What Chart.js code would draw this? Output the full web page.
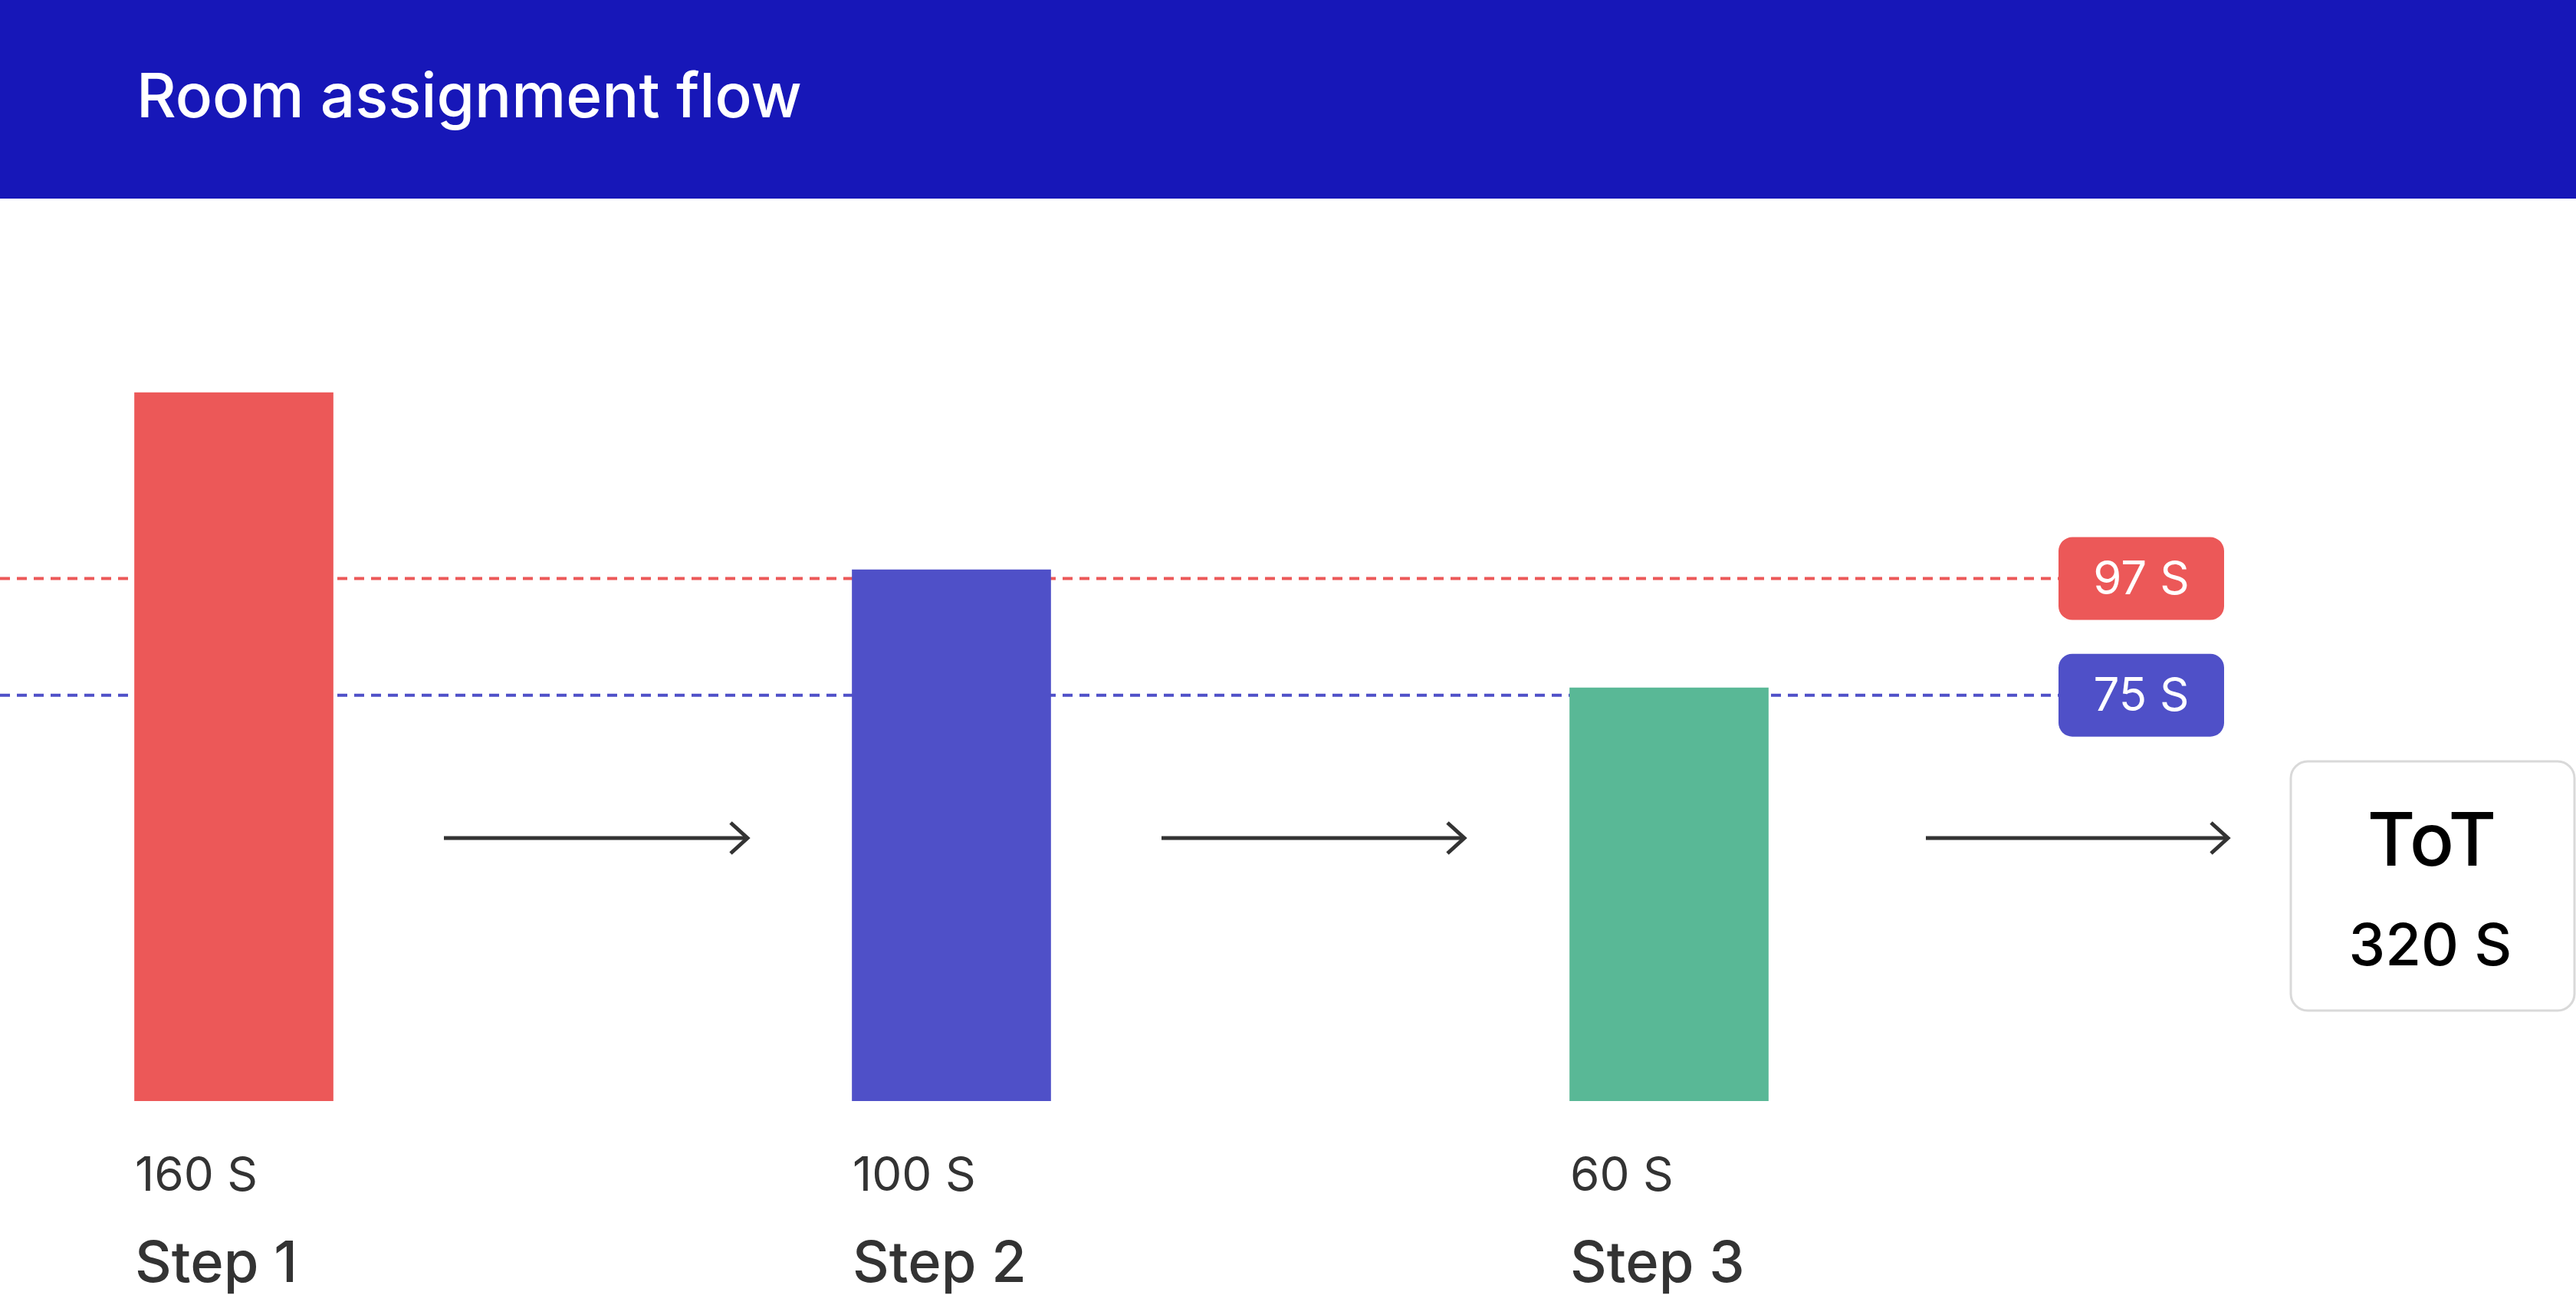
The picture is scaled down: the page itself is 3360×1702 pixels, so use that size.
<!DOCTYPE html>
<html><head><meta charset="utf-8">
<script src="https://cdn.jsdelivr.net/npm/chart.js@4"></script>
<style>html,body{margin:0;padding:0;background:#fff;overflow:hidden}</style>
</head><body>
<canvas id="c" width="3360" height="1702" style="width:3360px;height:1702px"></canvas>
<script>
const title = "Room assignment flow";
const categories = ["Step 1","Step 2","Step 3"];
const values = [160,100,60];
const valueLabels = ["160 S","100 S","60 S"];
const barColors = ["#EC5858","#4F50C8","#59B896"];
const refValues = [97,75];
const refLabels = ["97 S","75 S"];
const refColors = ["#EC5858","#4F50C8"];
const totalLabel = "ToT";
const totalValue = "320 S";
const yBase = -80;
const FONT = "Inter, 'Open Sans', sans-serif";

function rr(ctx,x,y,w,h,r){ctx.beginPath();ctx.moveTo(x+r,y);ctx.arcTo(x+w,y,x+w,y+h,r);ctx.arcTo(x+w,y+h,x,y+h,r);ctx.arcTo(x,y+h,x,y,r);ctx.arcTo(x,y,x+w,y,r);ctx.closePath();}
function arrow(ctx,x1,x2,y){ctx.save();ctx.strokeStyle="#333";ctx.lineWidth=5;ctx.beginPath();ctx.moveTo(x1,y);ctx.lineTo(x2,y);ctx.stroke();
ctx.beginPath();ctx.moveTo(x2-22,y-20);ctx.lineTo(x2,y);ctx.lineTo(x2-22,y+20);ctx.stroke();ctx.restore();}

const deco = {
 id:"deco",
 beforeDraw(chart){const ctx=chart.ctx;ctx.save();ctx.fillStyle="#fff";ctx.fillRect(0,0,3360,1702);
  ctx.fillStyle="#1717B8";ctx.fillRect(0,0,3360,259);
  ctx.fillStyle="#fff";ctx.font="500 80px "+FONT;ctx.textBaseline="middle";ctx.fillText(title,178,129);ctx.restore();
  const ys=chart.scales.yRef;
  refValues.forEach((v,i)=>{const y=ys.getPixelForValue(v);ctx.save();ctx.strokeStyle=refColors[i];ctx.lineWidth=4;ctx.setLineDash([13,9]);
   ctx.beginPath();ctx.moveTo(0,y);ctx.lineTo(2685,y);ctx.stroke();ctx.restore();});
 },
 afterDraw(chart){const ctx=chart.ctx,xs=chart.scales.x,ys=chart.scales.yRef;ctx.save();
  refValues.forEach((v,i)=>{const y=ys.getPixelForValue(v);ctx.fillStyle=refColors[i];rr(ctx,2685,y-54,216,108,18);ctx.fill();
   ctx.fillStyle="#fff";ctx.font="400 60px "+FONT;ctx.textAlign="center";ctx.textBaseline="middle";ctx.fillText(refLabels[i],2793,y+2);});
  ctx.textAlign="left";ctx.textBaseline="middle";
  categories.forEach((c,i)=>{const x=xs.getPixelForValue(i)-129;
   ctx.fillStyle="#333";ctx.font="400 62px "+FONT;ctx.fillText(valueLabels[i],x,1534);
   ctx.font="500 74px "+FONT;ctx.fillText(c,x,1650);});
  arrow(ctx,579,975,1093);arrow(ctx,1515,1910,1093);arrow(ctx,2512,2906,1093);
  ctx.strokeStyle="#d9d9d9";ctx.lineWidth=3;ctx.fillStyle="#fff";rr(ctx,2988,993,370,325,22);ctx.fill();ctx.stroke();
  ctx.fillStyle="#000";ctx.textAlign="center";ctx.font="500 96px "+FONT;ctx.fillText(totalLabel,3172,1100);
  ctx.font="500 76px "+FONT;ctx.fillText(totalValue,3170,1236);
  ctx.restore();}
};

new Chart(document.getElementById("c"),{
 type:"bar",
 data:{datasets:[{data:values.map((v,i)=>({x:i,y:[yBase,v]})),backgroundColor:barColors,barThickness:259,borderWidth:0}]},
 options:{responsive:false,animation:false,devicePixelRatio:1,
  layout:{padding:{top:0,bottom:266,left:0,right:0}},
  plugins:{legend:{display:false},tooltip:{enabled:false}},
  scales:{x:{type:"linear",offset:false,min:-305/936,max:-305/936+3360/936,display:false},
          y:{min:yBase,max:yBase+1436/3.85,display:false},
          yRef:{type:"linear",min:-1.55,max:-1.55+1436/6.915,display:false}}},
 plugins:[deco]
});
</script>
</body></html>
